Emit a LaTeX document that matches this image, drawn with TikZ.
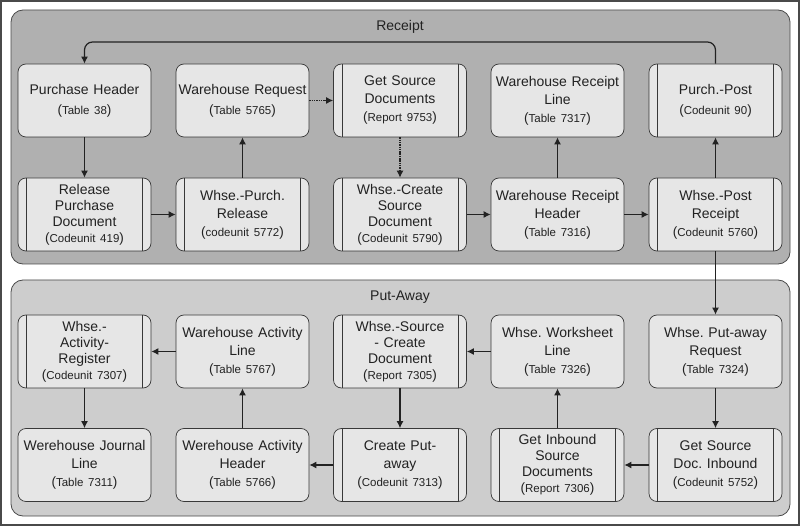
\documentclass[tikz,border=0pt]{standalone}
\usepackage{fontspec}
\setmainfont{Liberation Sans}
\usetikzlibrary{arrows.meta}
\definecolor{framegray}{HTML}{4A4A4A}
\definecolor{recfill}{HTML}{B0B0B0}
\definecolor{putfill}{HTML}{CDCDCD}
\definecolor{boxfill}{HTML}{E6E6E6}
\definecolor{ink}{HTML}{222222}
\newcommand{\subtxt}[1]{{\fontsize{13.5}{17}\selectfont(}{\fontsize{11.5}{17}\selectfont #1}{\fontsize{13.5}{17}\selectfont)}}
\tikzset{
  panel/.style={draw=framegray, line width=0.8pt, rounded corners=12pt},
  tbox/.style={draw=ink!90, line width=0.7pt, fill=boxfill, rounded corners=8pt,
    minimum width=133pt, minimum height=73pt, inner sep=0pt, text width=131pt,
    align=center, text=ink, font=\fontsize{14}{18}\selectfont\frenchspacing},
  two/.style={font=\fontsize{14}{20}\selectfont\frenchspacing},
  four/.style={font=\fontsize{14}{16}\selectfont\frenchspacing},
  cbox/.style={tbox, path picture={
    \draw[ink!90, line width=0.7pt] ([xshift=8.5pt]path picture bounding box.north west) -- ([xshift=8.5pt]path picture bounding box.south west);
    \draw[ink!90, line width=0.7pt] ([xshift=-8.5pt]path picture bounding box.north east) -- ([xshift=-8.5pt]path picture bounding box.south east);}},
  arr/.style={draw=ink, line width=1.2pt, -{Latex[length=7pt,width=7pt]}},
  darr/.style={arr, dash pattern=on 1.5pt off 0.8pt},
  title/.style={text=ink, font=\fontsize{14}{17}\selectfont}
}
\begin{document}
\begin{tikzpicture}[x=1pt,y=-1pt]
\useasboundingbox (0,0) rectangle (800,526);
\fill[white] (0,0) rectangle (800,526);
\draw[framegray, line width=1.5pt] (1,1) rectangle (799,525);
\draw[panel, fill=recfill] (11,10) rectangle (790,264);
\draw[panel, fill=putfill] (11,280) rectangle (790,516);
\node[title] (trec) at (400,27) {Receipt};
\node[title] (tput) at (400,297) {Put-Away};
% Receipt
\node[tbox, two] (ph) at (84.5,100.5) {Purchase Header\\ \subtxt{Table 38}};
\node[tbox, two] (wr) at (242.5,100.5) {Warehouse Request\\ \subtxt{Table 5765}};
\node[cbox] (gsd) at (400,100.5) {Get Source\\ Documents\\ \subtxt{Report 9753}};
\node[tbox] (wrl) at (557.5,100.5) {Warehouse Receipt\\ Line\\ \subtxt{Table 7317}};
\node[cbox, two] (pp) at (715.5,100.5) {Purch.-Post\\ \subtxt{Codeunit 90}};
\node[cbox, four] (rpd) at (84.5,214.5) {Release\\ Purchase\\ Document\\ \subtxt{Codeunit 419}};
\node[cbox] (wpr) at (242.5,214.5) {Whse.-Purch.\\ Release\\ \subtxt{codeunit 5772}};
\node[cbox, four] (wcsd) at (400,214.5) {Whse.-Create\\ Source\\ Document\\ \subtxt{Codeunit 5790}};
\node[tbox] (wrh) at (557.5,214.5) {Warehouse Receipt\\ Header\\ \subtxt{Table 7316}};
\node[cbox] (wpost) at (715.5,214.5) {Whse.-Post\\ Receipt\\ \subtxt{Codeunit 5760}};
% Put-away
\node[cbox, four] (war) at (84.5,351.5) {Whse.-\\ Activity-\\ Register\\ \subtxt{Codeunit 7307}};
\node[tbox] (wal) at (242.5,351.5) {Warehouse Activity\\ Line\\ \subtxt{Table 5767}};
\node[cbox, four] (wscd) at (400,351.5) {Whse.-Source\\ - Create\\ Document\\ \subtxt{Report 7305}};
\node[tbox] (wwl) at (557.5,351.5) {Whse. Worksheet\\ Line\\ \subtxt{Table 7326}};
\node[tbox] (wpar) at (715.5,351.5) {Whse. Put-away\\ Request\\ \subtxt{Table 7324}};
\node[tbox] (wjl) at (84.5,465) {Werehouse Journal\\ Line\\ \subtxt{Table 7311}};
\node[tbox] (wah) at (242.5,465) {Werehouse Activity\\ Header\\ \subtxt{Table 5766}};
\node[cbox] (cpa) at (400,465) {Create Put-\\ away\\ \subtxt{Codeunit 7313}};
\node[cbox, four] (gisd) at (557.5,465) {Get Inbound\\ Source\\ Documents\\ \subtxt{Report 7306}};
\node[cbox] (gsdi) at (715.5,465) {Get Source\\ Doc. Inbound\\ \subtxt{Codeunit 5752}};
% Receipt arrows
\draw[arr] (ph) -- (rpd);
\draw[arr] (rpd) -- (wpr);
\draw[arr] (wpr) -- (wr);
\draw[darr] (wr) -- (gsd);
\draw[darr] (gsd) -- (wcsd);
\draw[arr] (wcsd) -- (wrh);
\draw[arr] (wrh) -- (wrl);
\draw[arr] (wrh) -- (wpost);
\draw[arr] (wpost) -- (pp);
\coordinate (loop) at (84.5,42);
\draw[arr, rounded corners=8pt] (pp.north) |- (loop) -- (ph.north);
\draw[arr] (wpost) -- (wpar);
% Put-away arrows
\draw[arr] (wpar) -- (gsdi);
\draw[arr] (gsdi) -- (gisd);
\draw[arr] (gisd) -- (wwl);
\draw[arr] (wwl) -- (wscd);
\draw[arr] (wscd) -- (cpa);
\draw[arr] (cpa) -- (wah);
\draw[arr] (wah) -- (wal);
\draw[arr] (wal) -- (war);
\draw[arr] (war) -- (wjl);
\end{tikzpicture}
\end{document}
